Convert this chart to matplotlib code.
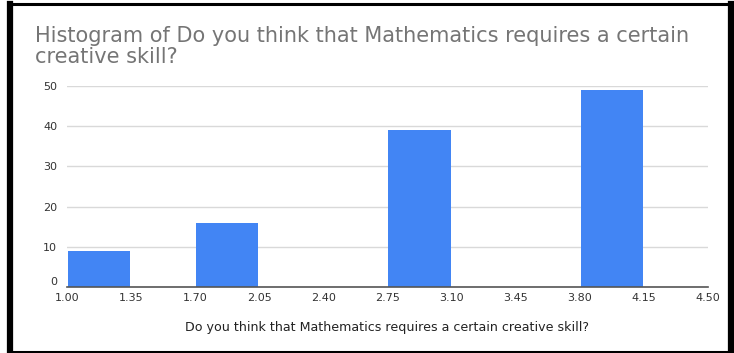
import matplotlib
matplotlib.use("Agg")
import matplotlib.pyplot as plt
from matplotlib.lines import Line2D

# Histogram bins (width 0.35) and counts
bin_edges = [1.00, 1.35, 1.70, 2.05, 2.40, 2.75, 3.10, 3.45, 3.80, 4.15, 4.50]
counts = [9, 0, 16, 0, 0, 39, 0, 0, 49, 0]
tick_labels = ["1.00", "1.35", "1.70", "2.05", "2.40", "2.75", "3.10", "3.45", "3.80", "4.15", "4.50"]
y_ticks = [0, 10, 20, 30, 40, 50]

title = "Histogram of Do you think that Mathematics requires a certain\ncreative skill?"
x_title = "Do you think that Mathematics requires a certain creative skill?"

plt.rcParams["font.family"] = ["DejaVu Sans"]

W, H = 734, 353
fig = plt.figure(figsize=(W / 100, H / 100), dpi=100)
ax = fig.add_axes([67 / W, 1 - 287 / H, 641 / W, 201 / H])

bar_color = "#4285F4"
for left, right, c in zip(bin_edges[:-1], bin_edges[1:], counts):
    if c > 0:
        ax.bar(left + 0.005, c, width=(right - left) - 0.01, align="edge",
               color=bar_color, edgecolor="none", zorder=3)

ax.set_xlim(bin_edges[0], bin_edges[-1])
ax.set_ylim(0, 50)
ax.set_xticks(bin_edges)
ax.set_xticklabels(tick_labels)
ax.set_yticks(y_ticks)

ax.grid(axis="y", color="#d9d9d9", linewidth=1, zorder=0)
ax.grid(axis="x", visible=False)
for side in ["top", "right", "left"]:
    ax.spines[side].set_visible(False)
ax.spines["bottom"].set_color("#555555")
ax.spines["bottom"].set_linewidth(1.2)
ax.spines["bottom"].set_zorder(4)

ax.tick_params(axis="both", length=0, labelsize=8, labelcolor="#333333")
ax.tick_params(axis="x", pad=4)
ax.tick_params(axis="y", pad=7)
for lbl in ax.get_yticklabels():
    lbl.set_verticalalignment("bottom" if lbl.get_text() == "0" else "center_baseline")

ax.set_xlabel(x_title, fontsize=9.1, color="#222222", labelpad=13)

fig.text(35 / W, 1 - 26 / H, title, fontsize=15, color="#757575",
         ha="left", va="top", linespacing=1.08)

# Outer frame around the chart (thicker at the sides)
def frame_line(x0, y0, x1, y1, lw):
    fig.add_artist(Line2D([x0 / W, x1 / W], [1 - y0 / H, 1 - y1 / H],
                          transform=fig.transFigure, color="black",
                          linewidth=lw, solid_capstyle="projecting"))

frame_line(10, 3.5, 731, 3.5, 2.2)
frame_line(10, 351.5, 731, 351.5, 2.2)
frame_line(10, 3.5, 10, 351.5, 4.5)
frame_line(731, 3.5, 731, 351.5, 4.5)

fig.savefig("out.png", dpi=100, facecolor="white")
